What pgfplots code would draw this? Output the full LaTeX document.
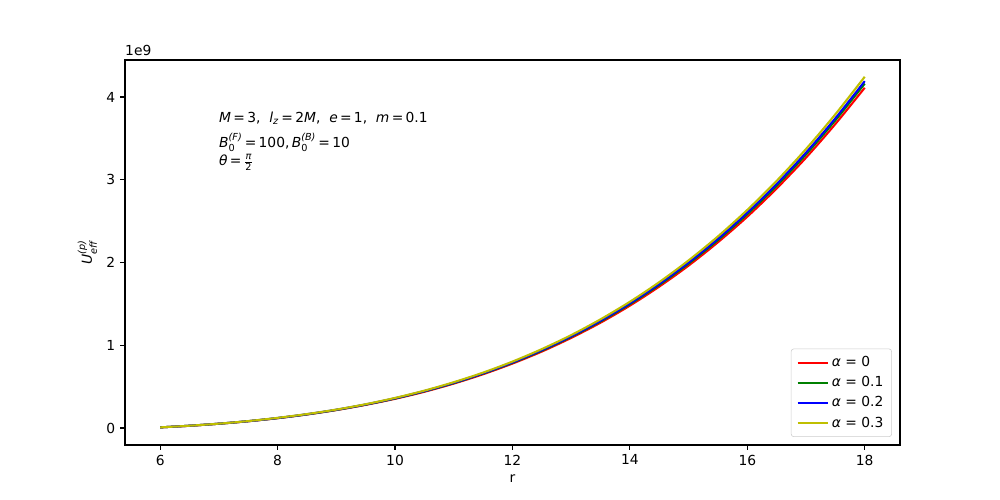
\documentclass[border=0pt]{standalone}
\usepackage{amsmath}
\usepackage{fontspec}
\setmainfont{DejaVu Sans}
\usepackage{pgfplots}
\pgfplotsset{compat=1.18}
\definecolor{mplgreen}{rgb}{0,0.5,0}
\definecolor{mplyellow}{rgb}{0.75,0.75,0}

% U_eff in units of 1e9
\pgfplotstableread{
r     a0     a1     a2     a3
6.0   0.008  0.008  0.008  0.008
6.5   0.027  0.028  0.028  0.028
7.0   0.052  0.052  0.053  0.053
7.5   0.082  0.083  0.083  0.084
8.0   0.119  0.120  0.121  0.123
8.5   0.164  0.165  0.167  0.169
9.0   0.217  0.219  0.221  0.223
9.5   0.280  0.283  0.285  0.288
10.0  0.353  0.357  0.360  0.364
10.5  0.438  0.444  0.447  0.452
11.0  0.537  0.543  0.547  0.554
11.5  0.650  0.658  0.662  0.670
12.0  0.779  0.788  0.793  0.803
12.5  0.924  0.935  0.942  0.954
13.0  1.089  1.102  1.109  1.123
13.5  1.273  1.288  1.297  1.314
14.0  1.479  1.497  1.507  1.526
14.5  1.709  1.729  1.741  1.763
15.0  1.963  1.987  2.001  2.026
15.5  2.245  2.271  2.287  2.316
16.0  2.554  2.585  2.603  2.636
16.5  2.895  2.929  2.950  2.987
17.0  3.267  3.306  3.329  3.372
17.5  3.674  3.718  3.744  3.792
18.0  4.112  4.162  4.192  4.245
}\ueff

\begin{document}
\begin{tikzpicture}
\begin{axis}[
  name=ax,
  scale only axis,
  width=560.1pt, height=278.2pt,
  xmin=5.4, xmax=18.6,
  ymin=-0.205, ymax=4.447,
  xtick={6,8,10,12,14,16,18},
  ytick={0,1,2,3,4},
  xtick pos=bottom, ytick pos=left,
  tick align=outside,
  major tick length=3.5pt,
  axis line style={line width=0.8pt},
  every tick/.style={black, line width=0.8pt},
  /pgf/number format/assume math mode=true,
  tick label style={font=\fontsize{10}{12}\selectfont},
  xlabel={r},
  ylabel={$\textit{U}^{\textit{(p)}}_{\textit{eff}}$},
  legend style={
    at={(axis description cs:1,0)}, anchor=south east,
    xshift=-5.8pt, yshift=5.8pt,
    draw=black!20, rounded corners=2pt, fill=white,
    font=\fontsize{10}{12}\selectfont,
    row sep=1.6pt, inner xsep=4pt, inner ysep=3.5pt,
    cells={anchor=west},
  },
  legend image code/.code={
    \draw[#1] (0cm,0cm) -- (0.77cm,0cm);
  },
  every axis plot/.append style={line width=1.5pt, smooth},
  clip=false,
]
\addplot[red] table[x=r,y=a0] {\ueff};
\addlegendentry{\textit{α} = 0}
\addplot[mplgreen] table[x=r,y=a1] {\ueff};
\addlegendentry{\textit{α} = 0.1}
\addplot[blue] table[x=r,y=a2] {\ueff};
\addlegendentry{\textit{α} = 0.2}
\addplot[mplyellow] table[x=r,y=a3] {\ueff};
\addlegendentry{\textit{α} = 0.3}

\node[anchor=west, inner sep=0pt] at (axis cs:7,3.746)
  {\textit{M}\,=\,3,\ \ \textit{l}\textsubscript{\textit{z}}\,=\,2\textit{M},\ \ \textit{e}\,=\,1,\ \ \textit{m}\,=\,0.1};
\node[anchor=west, inner sep=0pt] at (axis cs:7,3.45)
  {$\textit{B}^{\textit{(F)}}_{\text{0}}$\,=\,100,$\,\textit{B}^{\textit{(B)}}_{\text{0}}$\,=\,10};
\node[anchor=west, inner sep=0pt] at (axis cs:7,3.21)
  {\textit{θ}\,=\,$\frac{\textit{π}}{\text{2}}$};
\node[anchor=south west, inner sep=0pt] at (rel axis cs:0,1) [yshift=3pt] {1e9};
\end{axis}
\path ([xshift=-90.3pt,yshift=-39.7pt]ax.south west) rectangle ([xshift=72.3pt,yshift=43.4pt]ax.north east);
\end{tikzpicture}
\end{document}
